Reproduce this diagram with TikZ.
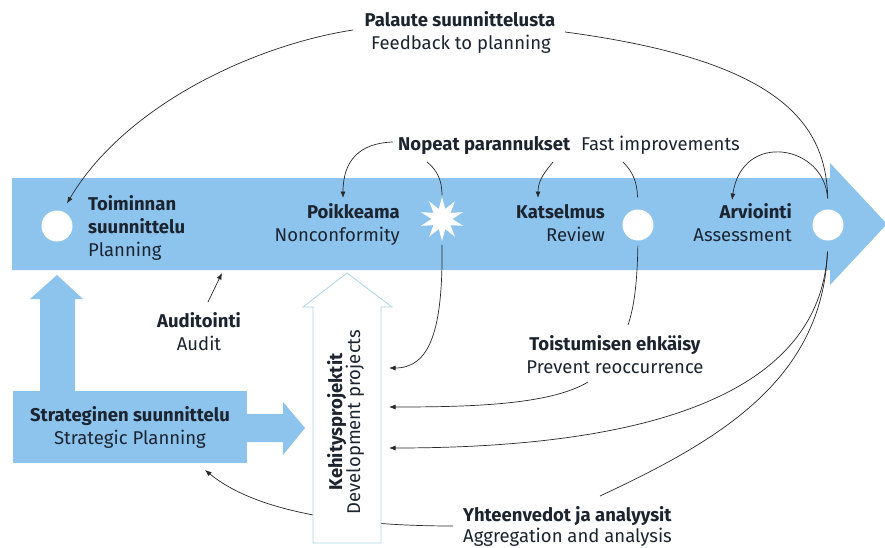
\documentclass[tikz,border=0pt]{standalone}
\usepackage{fontspec}
\setmainfont{Fira Sans}
\usetikzlibrary{arrows.meta,shapes.geometric}
\definecolor{band}{RGB}{141,196,238}
\definecolor{bandedge}{RGB}{170,212,234}
\definecolor{ink}{RGB}{28,36,48}
\definecolor{wire}{RGB}{40,40,40}

\begin{document}
\begin{tikzpicture}[x=1pt,y=-1pt,
  lab/.style={inner sep=0pt, text=ink, font=\fontsize{18.5}{23}\selectfont},
  blab/.style={inner sep=0pt, text=ink, font=\fontsize{18.5}{23}\selectfont\bfseries},
  hole/.style={circle, fill=white, minimum size=31pt, inner sep=0pt},
  link/.style={draw=wire, line width=0.7pt},
  arr/.style={link, -{Latex[length=6.5pt,width=5pt]}},
]
\fill[white] (0,0) rectangle (885,548);
\useasboundingbox (0,0) rectangle (885,548);

% main process band
\fill[band] (12,178) -- (830,178) -- (830,163) -- (887,224) -- (830,285)
  -- (830,270) -- (12,270) -- cycle;

% strategic planning block with its two arrows
\fill[band] (40,392) -- (40,299) -- (30,299) -- (57,275) -- (83,299)
  -- (75,299) -- (75,392) -- cycle;
\fill[band] (245,414) -- (283,414) -- (283,402) -- (305,428) -- (283,455)
  -- (283,442) -- (245,442) -- cycle;
\node[lab, fill=band, minimum width=234pt, minimum height=72pt, align=center]
  (sp) at (130,427) {\textbf{Strateginen suunnittelu}\\Strategic Planning};

% milestones on the band
\node[hole] (pl) at (57,226) {};
\node[hole] (rv) at (638,225) {};
\node[hole] (as) at (828,225) {};
\node[star, star points=10, star point ratio=2.1, fill=white,
  minimum size=44pt, inner sep=0pt] (st) at (442,219) {};

% connector end points
\coordinate (fbR) at (565,32);
\coordinate (fbL) at (353,30);
\coordinate (npL) at (393,142);
\coordinate (npB) at (427,162);
\coordinate (fiB) at (553,162);
\coordinate (imB) at (623,162);
\coordinate (pkT) at (343,198);
\coordinate (ksT) at (538,198);
\coordinate (arT) at (732,200);
\coordinate (auB) at (208,302);
\coordinate (bandB) at (222,273);
\coordinate (teT) at (628,325);
\coordinate (teB) at (588,382);
\coordinate (yhT) at (600,496);
\coordinate (yhL) at (453,526);
\coordinate (dv1) at (389,368);
\coordinate (dv2) at (389,407);
\coordinate (dv3) at (389,448);
\coordinate (spT) at (205,470);

% feedback loop over the top
\draw[link, shorten <=11pt] (as.north) .. controls (826,120) and (775,60) .. (fbR);
\draw[arr, shorten >=9pt] (fbL) .. controls (255,45) and (125,105) .. (pl.70);

% fast improvements
\draw[arr] (npL) .. controls (360,143) and (343,160) .. (pkT);
\draw[link, shorten >=1pt] (npB) .. controls (437,170) and (442,180) .. (st.north);
\draw[arr] (fiB) .. controls (545,172) and (538,180) .. (ksT);
\draw[link, shorten >=12pt] (imB) .. controls (633,172) and (637,182) .. (rv.north);
\draw[arr, shorten <=11pt] (as.north) .. controls (825,145) and (742,130) .. (arT);

% flows into development projects
\draw[arr, shorten <=3pt] (st.south) .. controls (443,330) and (430,368) .. (dv1);
\draw[link, shorten <=5pt] (rv.south) .. controls (637,290) and (633,310) .. (teT);
\draw[arr] (teB) .. controls (550,405) and (470,407) .. (dv2);
\draw[arr, shorten <=11pt] (as.south) .. controls (822,360) and (720,448) .. (dv3);
\draw[link, shorten <=11pt] (as.south) .. controls (822,380) and (720,440) .. (yhT);
\draw[arr] (yhL) .. controls (360,526) and (260,515) .. (spT);
\draw[arr] (auB) -- (bandB);

% development projects arrow
\filldraw[fill=white, draw=bandedge, line width=0.8pt]
  (313,543) -- (313,307) -- (303,307) -- (347,273) -- (392,307)
  -- (381,307) -- (381,543) -- cycle;
\node[blab, rotate=90, anchor=base] (dvA) at (342,422) {Kehitysprojektit};
\node[lab, rotate=90, anchor=base] (dvB) at (360,422) {Development projects};

% labels
\node[blab, anchor=base] (fb1) at (460,27) {Palaute suunnittelusta};
\node[lab, anchor=base] (fb2) at (461,50) {Feedback to planning};
\node[blab, anchor=base west] (np1) at (398,150) {Nopeat parannukset};
\node[lab, anchor=base east] (np2) at (740,150) {Fast improvements};

\node[blab, anchor=base west] (tp1) at (88,210) {Toiminnan};
\node[blab, anchor=base west] (tp2) at (88,233) {suunnittelu};
\node[lab, anchor=base west] (tp3) at (88,256) {Planning};

\node[blab, anchor=base east] (pk1) at (400,218) {Poikkeama};
\node[lab, anchor=base east] (pk2) at (400,241) {Nonconformity};
\node[blab, anchor=base east] (ks1) at (605,218) {Katselmus};
\node[lab, anchor=base east] (ks2) at (605,241) {Review};
\node[blab, anchor=base east] (ar1) at (792,218) {Arviointi};
\node[lab, anchor=base east] (ar2) at (792,241) {Assessment};

\node[blab, anchor=base] (au1) at (199,327) {Auditointi};
\node[lab, anchor=base] (au2) at (199,350) {Audit};
\node[blab, anchor=base] (te1) at (615,350) {Toistumisen ehkäisy};
\node[lab, anchor=base] (te2) at (615,373) {Prevent reoccurrence};
\node[blab, anchor=base west] (yh1) at (463,521) {Yhteenvedot ja analyysit};
\node[lab, anchor=base west] (yh2) at (463,542) {Aggregation and analysis};
\end{tikzpicture}
\end{document}
